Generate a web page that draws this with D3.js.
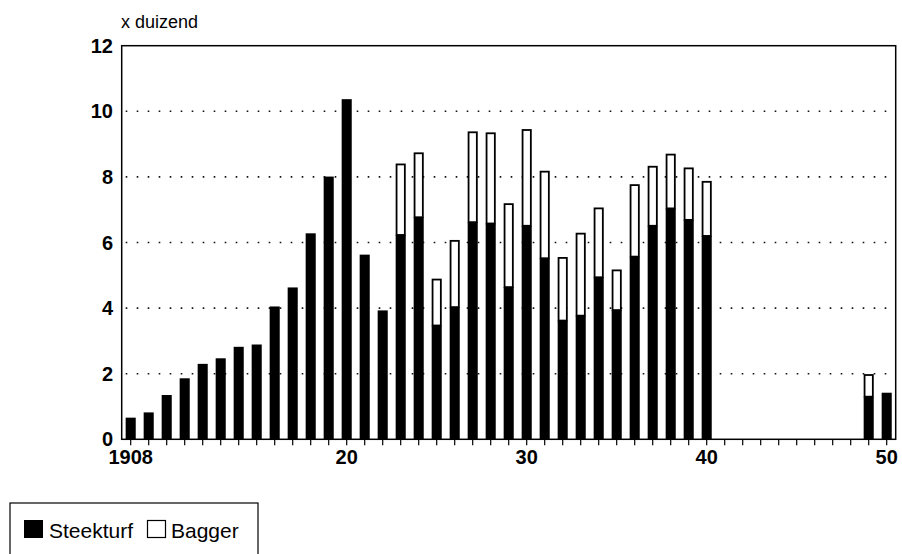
<!DOCTYPE html>
<html>
<head>
<meta charset="utf-8">
<script src="https://cdn.jsdelivr.net/npm/d3@7"></script>
<style>
  html, body { margin: 0; padding: 0; background: #fff; }
  svg { display: block; font-family: "Liberation Sans", Arial, Helvetica, sans-serif; }
</style>
</head>
<body>
<svg id="chart" width="902" height="554"></svg>
<script>
const years = [1908,1909,1910,1911,1912,1913,1914,1915,1916,1917,1918,1919,1920,1921,1922,1923,1924,1925,1926,1927,1928,1929,1930,1931,1932,1933,1934,1935,1936,1937,1938,1939,1940,1941,1942,1943,1944,1945,1946,1947,1948,1949,1950];
const steekturf = [0.66,0.82,1.35,1.86,2.30,2.47,2.82,2.89,4.05,4.63,6.28,8.01,10.37,5.63,3.93,6.23,6.77,3.47,4.03,6.62,6.58,4.64,6.51,5.52,3.62,3.77,4.94,3.94,5.57,6.51,7.04,6.69,6.20,0,0,0,0,0,0,0,0,1.30,1.42];
const bagger    = [0,0,0,0,0,0,0,0,0,0,0,0,0,0,0,2.15,1.95,1.40,2.02,2.74,2.75,2.53,2.92,2.64,1.91,2.50,2.10,1.21,2.18,1.80,1.64,1.57,1.65,0,0,0,0,0,0,0,0,0.66,0];
const yTicks = [0,2,4,6,8,10,12];
const xLabels = {1908:"1908",1920:"20",1930:"30",1940:"40",1950:"50"};
const seriesNames = ["Steekturf","Bagger"];
const unitLabel = "x duizend";

const svg = d3.select("#chart");
const L = 121.7, R = 895.7, T = 45.7, B = 439.3;

const x = d3.scaleBand().domain(years).range([L, R]).paddingInner(0.44).paddingOuter(0.22);
const y = d3.scaleLinear().domain([0, 12]).range([B, T]);

// gridlines
svg.append("g").selectAll("line").data(yTicks.filter(d => d > 0 && d < 12)).join("line")
  .attr("x1", L + 4).attr("x2", R)
  .attr("y1", d => y(d)).attr("y2", d => y(d))
  .attr("stroke", "#111").attr("stroke-width", 1.6)
  .attr("stroke-dasharray", "1.6,9.4");

// bars
const data = years.map((yr, i) => ({ yr, s: steekturf[i], b: bagger[i] }));
svg.append("g").selectAll("rect.s").data(data.filter(d => d.s > 0)).join("rect")
  .attr("x", d => x(d.yr)).attr("width", x.bandwidth())
  .attr("y", d => y(d.s)).attr("height", d => y(0) - y(d.s))
  .attr("fill", "#000");
svg.append("g").selectAll("rect.b").data(data.filter(d => d.b > 0)).join("rect")
  .attr("x", d => x(d.yr) + 0.9).attr("width", x.bandwidth() - 1.8)
  .attr("y", d => y(d.s + d.b)).attr("height", d => y(d.s) - y(d.s + d.b))
  .attr("fill", "#fff").attr("stroke", "#000").attr("stroke-width", 1.8);

// frame
svg.append("rect").attr("x", L).attr("y", T).attr("width", R - L).attr("height", B - T)
  .attr("fill", "none").attr("stroke", "#000").attr("stroke-width", 1.5);

// x ticks
svg.append("g").selectAll("line").data(years).join("line")
  .attr("x1", d => x(d) + x.bandwidth() / 2).attr("x2", d => x(d) + x.bandwidth() / 2)
  .attr("y1", B).attr("y2", B + 6)
  .attr("stroke", "#000").attr("stroke-width", 1.2);

// x labels
svg.append("g").selectAll("text").data(years.filter(d => xLabels[d])).join("text")
  .attr("x", d => x(d) + x.bandwidth() / 2).attr("y", 464)
  .attr("text-anchor", "middle").attr("font-size", 20).attr("font-weight", "bold")
  .text(d => xLabels[d]);

// y labels
svg.append("g").selectAll("text").data(yTicks).join("text")
  .attr("x", 113).attr("y", d => y(d) + 7)
  .attr("text-anchor", "end").attr("font-size", 20).attr("font-weight", "bold")
  .text(d => d);

// unit label
svg.append("text").attr("x", 121).attr("y", 28).attr("font-size", 18).text(unitLabel);

// legend
svg.append("rect").attr("x", 10).attr("y", 503).attr("width", 248).attr("height", 70)
  .attr("fill", "none").attr("stroke", "#000").attr("stroke-width", 1.2);
svg.append("rect").attr("x", 24).attr("y", 520).attr("width", 19).attr("height", 18).attr("fill", "#000");
svg.append("text").attr("x", 49).attr("y", 538).attr("font-size", 21).text(seriesNames[0]);
svg.append("rect").attr("x", 147.5).attr("y", 520.5).attr("width", 18).attr("height", 17)
  .attr("fill", "#fff").attr("stroke", "#000").attr("stroke-width", 1.2);
svg.append("text").attr("x", 171).attr("y", 538).attr("font-size", 21).text(seriesNames[1]);
</script>
</body>
</html>
